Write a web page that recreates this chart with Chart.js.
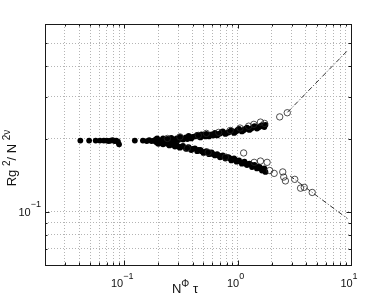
<!DOCTYPE html>
<html><head><meta charset="utf-8">
<script src="https://cdn.jsdelivr.net/npm/chart.js@4.4.0/dist/chart.umd.min.js"></script>
<style>html,body{margin:0;padding:0;background:#fff}canvas{display:block}</style>
</head><body>
<canvas id="c" width="365" height="299"></canvas>
<script>
// ---- data ----
const leftX = [0.041,0.049,0.056,0.061,0.066,0.070,0.073,0.076,0.079,0.082,0.085,0.088,0.090];
const leftY = [0.197,0.197,0.197,0.197,0.197,0.197,0.196,0.197,0.198,0.196,0.197,0.195,0.190];
const midX = [0.124,0.146,0.158,0.166,0.174,0.182];
const midY = [0.197,0.197,0.196,0.198,0.196,0.197];
const upperX = [0.19,0.20,0.21,0.22,0.23,0.25,0.26,0.28,0.29,0.31,0.33,0.35,0.37,0.39,0.42,0.44,0.47,0.50,0.53,0.56,0.59,0.63,0.66,0.70,0.74,0.78,0.83,0.88,0.93,0.98,1.03,1.09,1.15,1.21,1.27,1.34,1.41,1.48,1.56,1.64,1.72,1.76];
const upperY = [0.199,0.195,0.198,0.201,0.196,0.199,0.202,0.197,0.201,0.204,0.199,0.203,0.206,0.201,0.205,0.208,0.203,0.207,0.210,0.205,0.209,0.212,0.207,0.211,0.215,0.210,0.213,0.217,0.212,0.216,0.220,0.215,0.219,0.223,0.218,0.222,0.226,0.221,0.225,0.228,0.224,0.229];
const upper2X = [0.195,0.215,0.24,0.27,0.30,0.32,0.36,0.40,0.45,0.48,0.52,0.57,0.61,0.68,0.72,0.80,0.86,0.95,1.00,1.12,1.18,1.30,1.38,1.52,1.60,1.68];
const upper2Y = [0.201,0.196,0.200,0.199,0.198,0.202,0.200,0.204,0.205,0.209,0.205,0.208,0.207,0.210,0.213,0.212,0.215,0.214,0.218,0.217,0.221,0.220,0.224,0.223,0.226,0.226];
const lowerX = [0.19,0.20,0.21,0.22,0.23,0.25,0.26,0.28,0.29,0.31,0.33,0.35,0.37,0.39,0.42,0.44,0.47,0.50,0.53,0.56,0.59,0.63,0.66,0.70,0.74,0.78,0.83,0.88,0.93,0.98,1.03,1.09,1.15,1.21,1.27,1.34,1.41,1.48,1.56,1.64,1.72,1.76];
const lowerY = [0.195,0.191,0.194,0.190,0.193,0.188,0.191,0.186,0.189,0.184,0.187,0.182,0.185,0.180,0.183,0.178,0.180,0.175,0.178,0.173,0.176,0.171,0.173,0.168,0.171,0.166,0.168,0.163,0.166,0.161,0.163,0.158,0.161,0.156,0.158,0.153,0.156,0.151,0.153,0.148,0.151,0.146];
const lower2X = [0.195,0.215,0.24,0.27,0.30,0.32,0.36,0.40,0.45,0.48,0.52,0.57,0.61,0.68,0.72,0.80,0.86,0.95,1.00,1.12,1.18,1.30,1.38,1.52,1.60,1.68];
const lower2Y = [0.193,0.192,0.191,0.189,0.186,0.186,0.184,0.182,0.180,0.178,0.176,0.175,0.173,0.171,0.169,0.168,0.166,0.164,0.162,0.160,0.158,0.157,0.155,0.153,0.151,0.149];
const openX = [0.24,0.31,0.45,0.53,0.68,0.86,1.05,1.25,1.39,1.59,1.73,2.35,2.74,0.36,0.55,0.78,1.13,1.40,1.59,1.82,1.92,2.10,2.50,2.55,2.64,3.19,3.59,3.87,4.55];
const openY = [0.201,0.204,0.207,0.211,0.213,0.217,0.222,0.226,0.230,0.235,0.232,0.247,0.257,0.183,0.176,0.168,0.175,0.160,0.162,0.160,0.148,0.144,0.146,0.139,0.134,0.136,0.125,0.126,0.120];
const fitUpX = [2.75, 9.3];
const fitUpY = [0.258, 0.465];
const fitLowX = [2.9, 9.3];
const fitLowY = [0.1405, 0.0935];
const xGridVals = [0.02,0.03,0.04,0.05,0.06,0.07,0.08,0.09,0.1,0.2,0.3,0.4,0.5,0.6,0.7,0.8,0.9,1,2,3,4,5,6,7,8,9,10];
const yGridVals = [0.06,0.07,0.08,0.09,0.1,0.2,0.3,0.4,0.5,0.6];
const xTickVals = [0.1, 1, 10];
const xTickExp = ['\u22121', '0', '1'];
const yTickVals = [0.1];
const yTickExp = ['\u22121'];

const pts = (xs, ys) => xs.map((x, i) => ({x, y: ys[i]}));
const FONT = '"Liberation Sans", Arial, Helvetica, sans-serif';

function drawRich(ctx, segs, x, y, rot) {
  ctx.save();
  ctx.translate(x, y);
  if (rot) ctx.rotate(rot);
  ctx.textBaseline = 'alphabetic';
  ctx.textAlign = 'left';
  let cx = 0;
  for (const s of segs) {
    ctx.font = s.font;
    ctx.fillText(s.t, cx, -(s.raise || 0));
    cx += ctx.measureText(s.t).width;
  }
  ctx.restore();
}
function richWidth(ctx, segs) {
  let w = 0;
  for (const s of segs) { ctx.font = s.font; w += ctx.measureText(s.t).width; }
  return w;
}

const frame = {
  id: 'frame',
  afterDraw(chart) {
    const ctx = chart.ctx, a = chart.chartArea;
    const xs = chart.scales.x, ys = chart.scales.y;
    ctx.save();
    ctx.strokeStyle = '#1a1a1a';
    ctx.lineWidth = 1;
    ctx.strokeRect(Math.round(a.left) + 0.5, Math.round(a.top) + 0.5, Math.round(a.right - a.left), Math.round(a.bottom - a.top));
    ctx.beginPath();
    for (const v of xGridVals) {
      const p = Math.round(xs.getPixelForValue(v)) + 0.5;
      const L = xTickVals.includes(v) ? 4.5 : 2.5;
      ctx.moveTo(p, a.bottom); ctx.lineTo(p, a.bottom - L);
      ctx.moveTo(p, a.top); ctx.lineTo(p, a.top + L);
    }
    for (const v of yGridVals) {
      const p = Math.round(ys.getPixelForValue(v)) + 0.5;
      const L = yTickVals.includes(v) ? 4.5 : 2.5;
      ctx.moveTo(a.left, p); ctx.lineTo(a.left + L, p);
      ctx.moveTo(a.right, p); ctx.lineTo(a.right - L, p);
    }
    ctx.stroke();
    ctx.fillStyle = '#111';
    xTickVals.forEach((v, i) => {
      const segs = [{t: '10', font: '11px ' + FONT}, {t: xTickExp[i], font: '9px ' + FONT, raise: 8}];
      const w = richWidth(ctx, segs);
      const p = xs.getPixelForValue(v);
      drawRich(ctx, segs, p - 2 - w / 2, a.bottom + 22);
    });
    yTickVals.forEach((v, i) => {
      const segs = [{t: '10', font: '11px ' + FONT}, {t: yTickExp[i], font: '9px ' + FONT, raise: 9}];
      const w = richWidth(ctx, segs);
      const p = ys.getPixelForValue(v);
      drawRich(ctx, segs, a.left - 4 - w, p + 4);
    });
    const xl = [{t: 'N', font: '13px ' + FONT}, {t: '\u03A6', font: '10px ' + FONT, raise: 6}, {t: ' \u03C4', font: '13px ' + FONT}];
    const xw = richWidth(ctx, xl);
    drawRich(ctx, xl, 185 - xw / 2, a.bottom + 28);
    const yl = [{t: 'Rg ', font: '13px ' + FONT}, {t: '2', font: '10px ' + FONT, raise: 6}, {t: '/ N ', font: '13px ' + FONT}, {t: '2\u03BD', font: '10px ' + FONT, raise: 6}];
    const yw = richWidth(ctx, yl);
    drawRich(ctx, yl, 16, 158 + yw / 2, -Math.PI / 2);
    ctx.restore();
  }
};

const gridOpts = {color: '#b4b4b4', lineWidth: 1, drawTicks: false};
const filled = (xs, ys) => ({data: pts(xs, ys), pointRadius: 2.9, pointBorderWidth: 0, pointBackgroundColor: '#000', order: 3});
new Chart(document.getElementById('c'), {
  type: 'scatter',
  data: {
    datasets: [
      {data: pts(openX, openY), pointRadius: 3.2, pointBorderWidth: 0.8, pointBorderColor: '#222', pointBackgroundColor: 'rgba(255,255,255,0)', order: 1},
      {data: pts(fitUpX, fitUpY), showLine: true, pointRadius: 0, borderColor: '#333', borderWidth: 1, borderDash: [5, 2, 1, 2], order: 2},
      {data: pts(fitLowX, fitLowY), showLine: true, pointRadius: 0, borderColor: '#333', borderWidth: 1, borderDash: [5, 2, 1, 2], order: 2},
      filled(leftX, leftY),
      filled(midX, midY),
      filled(upperX, upperY),
      filled(upper2X, upper2Y),
      filled(lowerX, lowerY),
      filled(lower2X, lower2Y)
    ]
  },
  options: {
    responsive: false,
    animation: false,
    devicePixelRatio: 1,
    layout: {padding: {left: 45, right: 14, top: 24, bottom: 34}},
    plugins: {legend: {display: false}, tooltip: {enabled: false}},
    scales: {
      x: {
        type: 'logarithmic', min: 0.02, max: 10,
        grid: gridOpts,
        border: {display: false, dash: [1, 2]},
        ticks: {display: false},
        afterBuildTicks: s => { s.ticks = xGridVals.map(v => ({value: v})); }
      },
      y: {
        type: 'logarithmic', min: 0.06, max: 0.6,
        grid: gridOpts,
        border: {display: false, dash: [1, 2]},
        ticks: {display: false},
        afterBuildTicks: s => { s.ticks = yGridVals.map(v => ({value: v})); }
      }
    }
  },
  plugins: [frame]
});
</script>
</body></html>
